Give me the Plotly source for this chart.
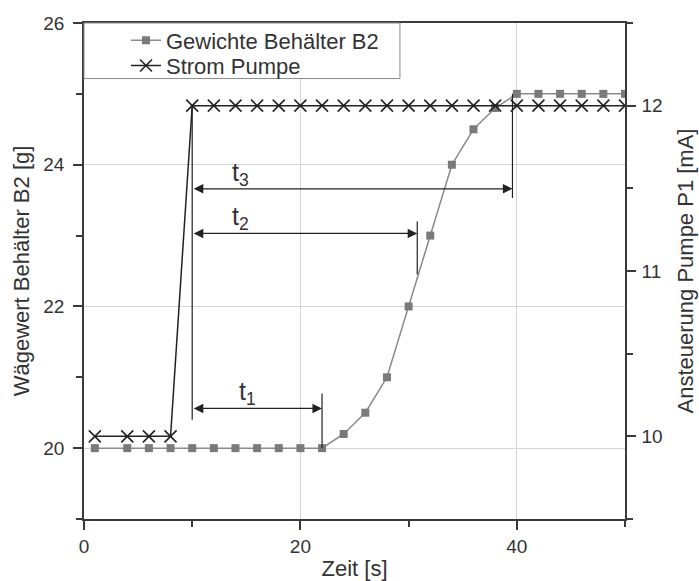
import plotly.graph_objects as go

# ---- data ----
weight_t = [1, 4, 6, 8, 10, 12, 14, 16, 18, 20, 22, 24, 26, 28, 30, 32, 34, 36, 38, 40, 42, 44, 46, 48, 50]
weight_g = [20, 20, 20, 20, 20, 20, 20, 20, 20, 20, 20, 20.2, 20.5, 21.0, 22.0, 23.0, 24.0, 24.5, 24.8, 25, 25, 25, 25, 25, 25]

pump_t = [1, 4, 6, 8, 10, 12, 14, 16, 18, 20, 22, 24, 26, 28, 30, 32, 34, 36, 38, 40, 42, 44, 46, 48, 50]
pump_ma = [10, 10, 10, 10, 12, 12, 12, 12, 12, 12, 12, 12, 12, 12, 12, 12, 12, 12, 12, 12, 12, 12, 12, 12, 12]

# time-interval markers (x in s, y in g on left axis)
vline_x = [10, 22, 30.8, 39.6]
vline_y0 = [20.4, 20.0, 22.45, 23.53]
vline_y1 = [24.83, 20.77, 23.2, 25.0]

span_labels = ["t<sub>1</sub>", "t<sub>2</sub>", "t<sub>3</sub>"]
span_start = [10, 10, 10]
span_end = [22, 30.8, 39.6]
span_y = [20.56, 23.03, 23.66]
label_x = [14.1, 13.5, 13.5]

FONT = "Liberation Sans, Arial, sans-serif"
TXT = "#333333"
AX = "#3a3a3a"
GRID = "#d4d4d4"

fig = go.Figure()
fig.add_trace(go.Scatter(
    x=weight_t, y=weight_g, name="Gewichte Behälter B2", mode="lines+markers",
    line=dict(color="#8a8a8a", width=1.5),
    marker=dict(symbol="square", size=8, color="#7a7a7a"),
    yaxis="y", legend="legend",
))
fig.add_trace(go.Scatter(
    x=pump_t, y=pump_ma, name="Strom Pumpe", mode="lines+markers",
    line=dict(color="#222222", width=1.5),
    marker=dict(symbol="x-thin", size=12, line=dict(width=1.6, color="#222222")),
    yaxis="y2", legend="legend2",
))

shapes = []
for x, y0, y1 in zip(vline_x, vline_y0, vline_y1):
    shapes.append(dict(type="line", xref="x", yref="y", x0=x, x1=x, y0=y0, y1=y1,
                       line=dict(color="#222222", width=1.2)))
# legend frame
shapes.append(dict(type="rect", xref="paper", yref="paper", x0=0, x1=0.584, y0=0.888, y1=1,
                   fillcolor="white", line=dict(color="#8a8a8a", width=1), layer="above"))

annotations = []
for lab, xs, xe, y, lx in zip(span_labels, span_start, span_end, span_y, label_x):
    annotations.append(dict(
        x=xe, y=y, ax=xs, ay=y, xref="x", yref="y", axref="x", ayref="y",
        text="", showarrow=True, arrowhead=2, arrowside="end+start",
        arrowsize=1.6, arrowwidth=1.2, arrowcolor="#222222", standoff=0, startstandoff=0,
    ))
    annotations.append(dict(
        x=lx, y=y, xref="x", yref="y", text=lab, showarrow=False,
        xanchor="left", yanchor="bottom", yshift=-3,
        font=dict(family=FONT, size=25, color=TXT),
    ))

leg_common = dict(xanchor="left", yanchor="middle", bgcolor="rgba(0,0,0,0)",
                  borderwidth=0, indentation=42,
                  font=dict(family=FONT, size=22, color=TXT), itemwidth=30)

fig.update_layout(
    width=699, height=581,
    margin=dict(l=84, r=74, t=23, b=62, autoexpand=False),
    paper_bgcolor="white", plot_bgcolor="white",
    font=dict(family=FONT, size=19, color=TXT),
    showlegend=True,
    legend=dict(x=0, y=0.965, **leg_common),
    legend2=dict(x=0, y=0.914, **leg_common),
    xaxis=dict(range=[0, 50], dtick=20, tick0=0, showgrid=True, gridcolor=GRID, gridwidth=1,
               zeroline=False, showline=True, linecolor=AX, linewidth=1.5, mirror=True,
               automargin=False,
               ticks="outside", ticklen=9, tickwidth=1.5, tickcolor=AX, ticklabelstandoff=0,
               minor=dict(dtick=10, tick0=0, ticks="outside", ticklen=6, tickcolor=AX, showgrid=False),
               title=dict(text="Zeit [s]", standoff=15, font=dict(size=22))),
    yaxis=dict(range=[19, 26], dtick=2, tick0=20, showgrid=True, gridcolor=GRID, gridwidth=1,
               zeroline=False, showline=True, linecolor=AX, linewidth=1.5, automargin=False,
               ticks="outside", ticklen=9, tickwidth=1.5, tickcolor=AX, ticklabelstandoff=5,
               minor=dict(dtick=1, tick0=19, ticks="outside", ticklen=6, tickcolor=AX, showgrid=False),
               title=dict(text="Wägewert Behälter B2 [g]", standoff=8, font=dict(size=22))),
    yaxis2=dict(range=[9.5, 12.5], dtick=1, tick0=10, overlaying="y", side="right", showgrid=False,
                zeroline=False, showline=True, linecolor=AX, linewidth=1.5, automargin=False,
                ticks="outside", ticklen=9, tickwidth=1.5, tickcolor=AX, ticklabelstandoff=2,
                minor=dict(dtick=0.5, tick0=9.5, ticks="outside", ticklen=6, tickcolor=AX, showgrid=False),
                title=dict(text="Ansteuerung Pumpe P1 [mA]", standoff=16, font=dict(size=22))),
    shapes=shapes,
    annotations=annotations,
)

fig.write_html("out.html")
